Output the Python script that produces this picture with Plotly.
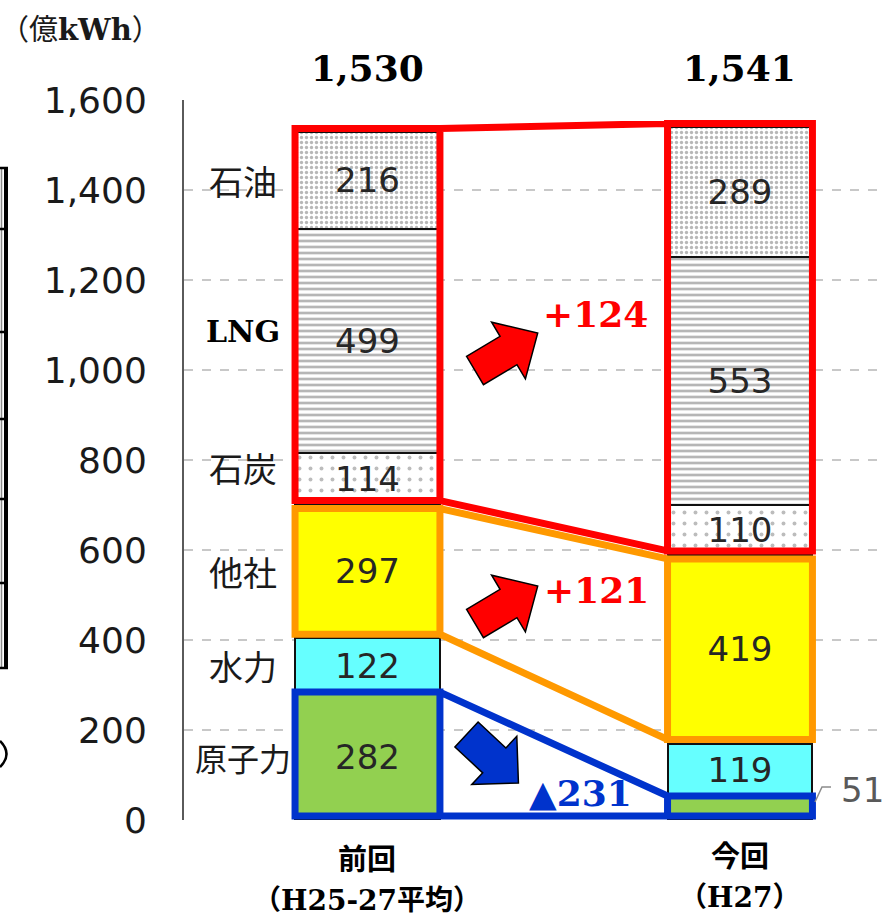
import math
import plotly.graph_objects as go

# ---- data (億kWh) ----
periods = ["前回", "今回"]
period_notes = ["（H25-27平均）", "（H27）"]
sources = ["原子力", "水力", "他社", "石炭", "LNG", "石油"]
nuclear = [282, 51]
hydro = [122, 119]
others = [297, 419]
coal = [114, 110]
lng = [499, 553]
oil = [216, 289]
delta_labels = ["+124", "+121", "▲231"]
y_ticks = [0, 200, 400, 600, 800, 1000, 1200, 1400, 1600]

series = [nuclear, hydro, others, coal, lng, oil]

# ---- figure geometry ----
W, H = 884, 919
PL, PR, PT, PB = 184, 884, 100, 820          # plot area in pixels
X_RANGE = [-0.4926, 1.3866]
Y_RANGE = [0, 1600]
BAR_W = 0.389
HW = BAR_W / 2
PX_PER_X = (PR - PL) / (X_RANGE[1] - X_RANGE[0])
PX_PER_Y = (PB - PT) / (Y_RANGE[1] - Y_RANGE[0])


def px(xp):
    return (xp - PL) / (PR - PL)


def py(yp):
    return (PB - yp) / (PB - PT)


def dy(pixels):
    return pixels / PX_PER_Y


def dx(pixels):
    return pixels / PX_PER_X


# ---- segment styles ----
styles = {
    "原子力": dict(color="#92D050"),
    "水力": dict(color="#66FFFF"),
    "他社": dict(color="#FFFF00"),
    "石炭": dict(color="white", pattern=dict(shape=".", fgcolor="#7a7a7a", bgcolor="white",
                                            size=11, solidity=0.1)),
    "LNG": dict(color="white", pattern=dict(shape="-", fgcolor="#6e6e6e", bgcolor="white",
                                           size=6, solidity=0.45)),
    "石油": dict(color="white", pattern=dict(shape=".", fgcolor="#707070", bgcolor="white",
                                            size=5, solidity=0.35)),
}

fig = go.Figure()
xs = [0, 1]
for name, vals in zip(sources, series):
    texts = [str(v) for v in vals]
    if name == "原子力":
        texts[1] = ""  # shown beside the bar instead
    marker = dict(line=dict(color="#111111", width=2), **styles[name])
    fig.add_trace(go.Bar(
        x=xs, y=vals, name=name, width=BAR_W, marker=marker,
        text=texts, textposition="inside", insidetextanchor="middle",
        constraintext="none", textangle=0,
        textfont=dict(family="DejaVu Sans", size=34, color="#262626"),
        hoverinfo="skip", showlegend=False,
    ))

totals = [sum(s[i] for s in series) for i in range(2)]


def cum(i, upto):
    return sum(series[k][i] for k in range(upto))


shapes = []

# ---- grouped outlines linking the two bars ----
groups = [
    # (first index, last index exclusive, colour, top pad px, bottom pad px)
    (2, 3, "#FF9900", 4, 4),
    (3, 6, "#FF0000", -3, 4),
    (0, 1, "#0033CC", -1, 4),
]
for a, b, col, tp, bp in groups:
    lo = [cum(i, a) for i in range(2)]
    hi = [cum(i, b) for i in range(2)]
    b1, t1 = lo[0] + dy(bp), hi[0] - dy(tp)
    b2, t2 = lo[1] + dy(bp), hi[1] - dy(tp)
    x0, x1, x2, x3 = -HW, HW, 1 - HW, 1 + HW
    path = (f"M {x0},{b1} L {x0},{t1} L {x1},{t1} L {x1},{b1} Z "
            f"M {x2},{b2} L {x2},{t2} L {x3},{t2} L {x3},{b2} Z "
            f"M {x1},{t1} L {x2},{t2} M {x1},{b1} L {x2},{b2}")
    shapes.append(dict(type="path", xref="x", yref="y", path=path,
                       line=dict(color=col, width=7), layer="above"))


# ---- block arrows ----
def arrow(tx, ty, ang, L, w, h, hl, fill):
    pts = [(0, -w), (L - hl, -w), (L - hl, -h), (L, 0), (L - hl, h), (L - hl, w), (0, w)]
    c, s = math.cos(math.radians(ang)), math.sin(math.radians(ang))
    out = []
    for u, v in pts:
        X = tx + u * c - v * s
        Y = ty + u * s + v * c
        out.append(f"{px(X)},{py(Y)}")
    path = "M " + " L ".join(out) + " Z"
    return dict(type="path", xref="paper", yref="paper", path=path,
                fillcolor=fill, line=dict(color="black", width=1.5), layer="above")


shapes.append(arrow(475, 370.5, -30.8, 73, 16.5, 33, 34, "#FF0000"))
shapes.append(arrow(475, 623.5, -30.8, 73, 16.5, 33, 34, "#FF0000"))
shapes.append(arrow(466.5, 734.5, 43, 71, 17, 33, 33, "#0033CC"))

# leader line for the small nuclear segment
shapes.append(dict(type="path", xref="paper", yref="paper",
                   path=f"M {px(815)},{py(802)} L {px(822)},{py(787)} L {px(831)},{py(787)}",
                   line=dict(color="#8c8c8c", width=1.5)))

# bracket fragment at the left edge
shapes.append(dict(type="line", xref="paper", yref="paper", x0=px(6), x1=px(6),
                   y0=py(167), y1=py(669), line=dict(color="black", width=4)))
shapes.append(dict(type="line", xref="paper", yref="paper", x0=px(1.5), x1=px(1.5),
                   y0=py(167), y1=py(669), line=dict(color="#8c8c8c", width=1.5)))
for yy in [168, 229, 332, 419, 499, 583, 668]:
    shapes.append(dict(type="line", xref="paper", yref="paper", x0=px(0), x1=px(8),
                       y0=py(yy), y1=py(yy), line=dict(color="black", width=2.5)))
shapes.append(dict(type="path", xref="paper", yref="paper",
                   path=f"M {px(0)},{py(741)} Q {px(13)},{py(754)} {px(0)},{py(767)}",
                   line=dict(color="black", width=2.5)))

annotations = []
serif_cjk = "DejaVu Serif, Noto Sans CJK JP"


def note(**kw):
    kw.setdefault("showarrow", False)
    kw.setdefault("xanchor", "center")
    kw.setdefault("yanchor", "middle")
    annotations.append(kw)


# totals above bars
for i, t in enumerate(totals):
    note(x=i, y=py(68), xref="x", yref="paper", text=f"{t:,}",
         font=dict(family="DejaVu Serif", size=36, color="black", weight="bold"))

# unit
note(x=px(80), y=py(30), xref="paper", yref="paper", text="（億<b>kWh</b>）",
     font=dict(family=serif_cjk, size=29, color="#1a1a1a"))

# source names beside the first bar
label_shift = {"LNG": 9, "石炭": 11}
for k, name in enumerate(sources):
    mid = cum(0, k) + series[k][0] / 2
    if name == "LNG":
        font = dict(family="DejaVu Serif", size=30, color="black", weight="bold")
    else:
        font = dict(family="Noto Sans CJK JP", size=34 if len(name) == 2 else 32,
                    color="#1a1a1a")
    note(x=dx(243 - PL) + X_RANGE[0], y=mid, xref="x", yref="y", text=name, font=font,
         yshift=label_shift.get(name, 0))

# nuclear value beside the second bar
note(x=dx(862 - PL) + X_RANGE[0], y=nuclear[1], xref="x", yref="y",
     text=str(nuclear[1]), yshift=7,
     font=dict(family="DejaVu Sans", size=34, color="#595959"))

# change labels
delta_pos = [(595, 314, "#FF0000"), (596, 590, "#FF0000"), (580, 793, "#0033CC")]
for lab, (xx, yy, col) in zip(delta_labels, delta_pos):
    note(x=px(xx), y=py(yy), xref="paper", yref="paper", text=lab,
         font=dict(family="DejaVu Serif, DejaVu Sans", size=36, color=col, weight="bold"))

# category labels under the bars
cat_y = [(860, 900), (857, 897)]
for i in range(2):
    note(x=i, y=py(cat_y[i][0]), xref="x", yref="paper", text=periods[i],
         font=dict(family=serif_cjk, size=29, color="black", weight="bold"))
    note(x=i, y=py(cat_y[i][1]), xref="x", yref="paper", text=period_notes[i],
         font=dict(family=serif_cjk, size=28, color="black", weight="bold"))

fig.update_layout(
    width=W, height=H, autosize=False,
    margin=dict(l=PL, r=W - PR, t=PT, b=H - PB, pad=0),
    barmode="stack",
    plot_bgcolor="white", paper_bgcolor="white",
    shapes=shapes, annotations=annotations,
    showlegend=False,
    xaxis=dict(range=X_RANGE, showticklabels=False, showgrid=False, zeroline=False,
               showline=False, fixedrange=True),
    yaxis=dict(range=Y_RANGE, tickvals=y_ticks, tickformat=",", showgrid=True,
               gridcolor="#c8c8c8", griddash="dash", gridwidth=1.5, zeroline=False,
               showline=True, linecolor="#5a5a5a", linewidth=2, ticks="",
               ticklabelstandoff=28,
               tickfont=dict(family="DejaVu Sans", size=36, color="#1a1a1a"),
               fixedrange=True),
)

fig.write_html("out.html")
